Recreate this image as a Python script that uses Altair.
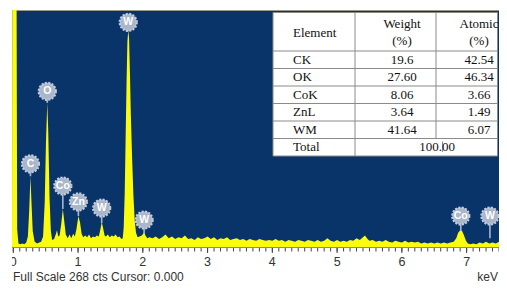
import altair as alt
import pandas as pd

# ---------------- spectrum (keV, counts) ----------------
KEV = [-0.02, -0.012, 0.0, 0.05, 0.06, 0.08, 0.11, 0.14, 0.17, 0.20,
       0.225, 0.245, 0.265, 0.28, 0.30, 0.33, 0.37, 0.40, 0.43, 0.46,
       0.485, 0.505, 0.525, 0.54, 0.56, 0.58, 0.60, 0.63, 0.655, 0.675,
       0.695, 0.715, 0.74, 0.765, 0.79, 0.81, 0.84, 0.87, 0.895, 0.925,
       0.95, 0.975, 1.005, 1.03, 1.055, 1.08, 1.11, 1.14, 1.17, 1.20,
       1.23, 1.26, 1.29, 1.32, 1.345, 1.365, 1.385, 1.41, 1.43, 1.46,
       1.49, 1.52, 1.55, 1.58, 1.61, 1.64, 1.67, 1.69, 1.705, 1.72,
       1.735, 1.75, 1.762, 1.775, 1.788, 1.80, 1.815, 1.835, 1.855, 1.875,
       1.895, 1.92, 1.95, 1.985, 2.005, 2.02, 2.04, 2.07, 2.10, 2.15,
       2.20, 2.25, 2.30, 2.35, 2.40, 2.45, 2.50, 2.55, 2.60, 2.65,
       2.70, 2.75, 2.80, 2.85, 2.90, 2.95, 3.00, 3.05, 3.10, 3.15,
       3.20, 3.25, 3.30, 3.35, 3.40, 3.45, 3.50, 3.55, 3.60, 3.65,
       3.70, 3.75, 3.80, 3.85, 3.90, 3.95, 4.00, 4.05, 4.10, 4.15,
       4.20, 4.25, 4.30, 4.35, 4.40, 4.45, 4.50, 4.55, 4.60, 4.65,
       4.70, 4.75, 4.80, 4.85, 4.90, 4.95, 5.00, 5.05, 5.10, 5.15,
       5.20, 5.25, 5.30, 5.35, 5.40, 5.43, 5.47, 5.50, 5.55, 5.60,
       5.65, 5.70, 5.75, 5.80, 5.85, 5.90, 5.95, 6.00, 6.05, 6.10,
       6.15, 6.20, 6.25, 6.30, 6.35, 6.40, 6.45, 6.50, 6.55, 6.60,
       6.65, 6.70, 6.75, 6.80, 6.84, 6.87, 6.90, 6.93, 6.96, 6.99,
       7.02, 7.06, 7.10, 7.15, 7.20, 7.25, 7.30, 7.35, 7.40, 7.45,
       7.50, 7.55, 7.60, 7.64]
CTS = [0, 300, 300, 300, 20, 4, 3, 4, 3, 5,
       12, 40, 80, 52, 18, 6, 4, 5, 6, 12,
       50, 120, 163, 130, 55, 18, 8, 9, 14, 19,
       12, 13, 26, 43, 27, 14, 10, 14, 10, 15,
       12, 20, 35, 28, 15, 11, 13, 11, 14, 10,
       12, 11, 13, 12, 20, 28, 22, 13, 12, 14,
       11, 13, 12, 14, 11, 12, 9, 10, 22, 60,
       125, 190, 232, 245, 236, 200, 150, 100, 58, 30,
       16, 11, 12, 13, 15, 17, 13, 10, 11, 10,
       12, 9, 11, 14, 10, 12, 9, 11, 10, 13,
       9, 10, 8, 11, 9, 10, 12, 9, 11, 8,
       10, 9, 11, 8, 9, 10, 8, 9, 7, 9,
       8, 7, 9, 8, 7, 8, 7, 9, 7, 8,
       6, 8, 7, 6, 8, 7, 6, 8, 7, 6,
       8, 6, 7, 10, 7, 6, 8, 6, 7, 6,
       8, 7, 10, 8, 11, 13, 9, 7, 8, 6,
       7, 6, 8, 6, 5, 7, 6, 5, 7, 5,
       6, 5, 6, 4, 5, 4, 5, 4, 5, 4,
       5, 4, 5, 6, 10, 16, 19, 18, 13, 7,
       4, 3, 4, 3, 5, 4, 6, 4, 5, 4,
       6, 4, 5, 4]

# ---------------- peak badges ----------------
BADGE_LABEL = ["C", "O", "Co", "Zn", "W", "W", "W", "Co", "W"]
BADGE_KEV = [0.265, 0.525, 0.765, 1.005, 1.365, 1.775, 2.02, 6.91, 7.36]
BADGE_CTS = [94, 176, 69, 51, 44, 254, 30.5, 35, 35]
PEAK_CTS = [80, 163, 43, 35, 27, 244, 15, 18, 10]

# ---------------- table ----------------
ELEMENTS = ["CK", "OK", "CoK", "ZnL", "WM"]
WEIGHT = ["19.6", "27.60", "8.06", "3.64", "41.64"]
ATOMIC = ["42.54", "46.34", "3.66", "1.49", "6.07"]
TOTAL_LABEL = "Total"
TOTAL_VALUE = "100.00"
HEAD_ELEMENT = "Element"
HEAD_WEIGHT = ["Weight", "(%)"]
HEAD_ATOMIC = ["Atomic", "(%)"]

FOOTER = "Full Scale 268 cts Cursor: 0.000"
UNIT = "keV"
X_DOMAIN = [-0.02, 7.5]
FULL_SCALE = 268
MAJOR_TICKS = [0, 1, 2, 3, 4, 5, 6, 7]
MINOR_STEP = 0.1

# ---------------- layout ----------------
W, H = 487, 237
BLUE = "#08346a"
YELLOW = "#fbfb0e"
BADGE = "#aab6ca"
AXIS_GREY = "#444444"

x_scale = alt.Scale(domain=X_DOMAIN, nice=False, zero=False)
y_scale = alt.Scale(domain=[0, FULL_SCALE], nice=False)
NOAX = dict(axis=None)

minor = pd.DataFrame({"t": [round(i * MINOR_STEP, 1) for i in range(int(X_DOMAIN[1] / MINOR_STEP) + 1)]})
major = pd.DataFrame({"t": MAJOR_TICKS, "lab": [str(v) for v in MAJOR_TICKS]})

spec = pd.DataFrame({"kev": KEV, "cts": CTS})
area = alt.Chart(spec).mark_area(color=YELLOW, clip=True, interpolate="linear").encode(
    x=alt.X("kev:Q", scale=x_scale, **NOAX),
    y=alt.Y("cts:Q", scale=y_scale, **NOAX),
)

axis_line = alt.Chart(pd.DataFrame({"a": [0]})).mark_rule(color="#8a8a8a", strokeWidth=1).encode(
    x=alt.value(0), x2=alt.value(W), y=alt.value(H + 0.5))
minor_ticks = alt.Chart(minor).mark_rule(color=AXIS_GREY, strokeWidth=1).encode(
    x=alt.X("t:Q", scale=x_scale, **NOAX), y=alt.value(H + 1), y2=alt.value(H + 4.5))
major_ticks = alt.Chart(major).mark_rule(color=AXIS_GREY, strokeWidth=1).encode(
    x=alt.X("t:Q", scale=x_scale, **NOAX), y=alt.value(H + 1), y2=alt.value(H + 6))
tick_labels = alt.Chart(major).mark_text(font="Liberation Sans", fontSize=12.5, color="#333333",
                                         baseline="middle", align="center").encode(
    x=alt.X("t:Q", scale=x_scale, **NOAX), y=alt.value(H + 15), text="lab:N")

badges = pd.DataFrame({"kev": BADGE_KEV, "cts": BADGE_CTS, "peak": PEAK_CTS, "label": BADGE_LABEL})
stems = alt.Chart(badges).mark_rule(color=BADGE, strokeWidth=1.6).encode(
    x=alt.X("kev:Q", scale=x_scale, **NOAX), y=alt.Y("cts:Q", scale=y_scale, **NOAX), y2="peak:Q")
circles = alt.Chart(badges).mark_point(shape="circle", filled=True, size=290, fill=BADGE,
                                       stroke="#c3ccda", strokeWidth=2.2, strokeDash=[2, 1.4],
                                       opacity=1).encode(
    x=alt.X("kev:Q", scale=x_scale, **NOAX), y=alt.Y("cts:Q", scale=y_scale, **NOAX))
btext = alt.Chart(badges).mark_text(color="white", fontWeight="bold", fontSize=10.5,
                                    font="Liberation Sans", baseline="middle").encode(
    x=alt.X("kev:Q", scale=x_scale, **NOAX), y=alt.Y("cts:Q", scale=y_scale, **NOAX), text="label:N")

# ---------------- table geometry (pixels inside plot area) ----------------
TL, TR, TT = 261, 485.5, 2.5
HEAD_H, ROW_H = 38.5, 17.5
C1, C2 = 343, 424
n_rows = len(ELEMENTS) + 1
TB = TT + HEAD_H + ROW_H * n_rows
row_tops = [TT + HEAD_H + ROW_H * i for i in range(n_rows)]


def vrect(x1, x2, y1, y2, **kw):
    return alt.Chart(pd.DataFrame({"a": [0]})).mark_rect(**kw).encode(
        x=alt.value(x1), x2=alt.value(x2), y=alt.value(y1), y2=alt.value(y2))


def vrule(x1, x2, y1, y2):
    return alt.Chart(pd.DataFrame({"a": [0]})).mark_rule(color="#8a8a8a", strokeWidth=1).encode(
        x=alt.value(x1), x2=alt.value(x2), y=alt.value(y1), y2=alt.value(y2))


def vtext(x, y, t, align):
    return alt.Chart(pd.DataFrame({"t": [t]})).mark_text(
        font="Liberation Serif", fontSize=13, color="#111111", align=align, baseline="middle").encode(
        x=alt.value(x), y=alt.value(y), text="t:N")


table_layers = [vrect(TL, TR, TT, TB, fill="white", stroke="#8a8a8a", strokeWidth=1)]
for yv in row_tops:
    table_layers.append(vrule(TL, TR, yv, yv))
table_layers.append(vrule(C1, C1, TT, TB))
table_layers.append(vrule(C2, C2, TT, row_tops[-1]))
table_layers.append(vrule(C2 + 6.5, C2 + 6.5, row_tops[-1] + 3, TB - 4))

x_el, x_w, x_a = 281, 390, 467
table_layers += [
    vtext(x_el, TT + 20, HEAD_ELEMENT, "left"),
    vtext(x_w, TT + 11, HEAD_WEIGHT[0], "center"),
    vtext(x_w, TT + 28.5, HEAD_WEIGHT[1], "center"),
    vtext(x_a, TT + 11, HEAD_ATOMIC[0], "center"),
    vtext(x_a, TT + 28.5, HEAD_ATOMIC[1], "center"),
]
for i, (e, w, a) in enumerate(zip(ELEMENTS, WEIGHT, ATOMIC)):
    yc = row_tops[i] + ROW_H / 2
    table_layers += [vtext(x_el, yc, e, "left"), vtext(x_w, yc, w, "center"), vtext(x_a, yc, a, "center")]
yc = row_tops[-1] + ROW_H / 2
table_layers += [vtext(x_el, yc, TOTAL_LABEL, "left"), vtext(C2 + 1, yc, TOTAL_VALUE, "center")]

footer = alt.Chart(pd.DataFrame({"t": [FOOTER]})).mark_text(
    align="left", baseline="alphabetic", font="Liberation Sans", fontSize=12, color="#333333").encode(
    x=alt.value(1), y=alt.value(H + 34), text="t:N")
unit = alt.Chart(pd.DataFrame({"t": [UNIT]})).mark_text(
    align="right", baseline="alphabetic", font="Liberation Sans", fontSize=12, color="#333333").encode(
    x=alt.value(W - 1), y=alt.value(H + 34), text="t:N")
cover = vrect(-5, 0, H + 7, H + 24, fill="white")

chart = alt.layer(
    area, axis_line, minor_ticks, major_ticks, tick_labels, stems, circles, btext,
    *table_layers, footer, unit, cover
).properties(
    width=W, height=H,
    autosize=alt.AutoSizeParams(type="none"),
    padding={"left": 4, "top": 2, "right": 0, "bottom": 38},
).configure_view(fill=BLUE, stroke="#9a9a8c", strokeWidth=1)

chart.save("out.html", embed_options={"renderer": "svg", "actions": False})
